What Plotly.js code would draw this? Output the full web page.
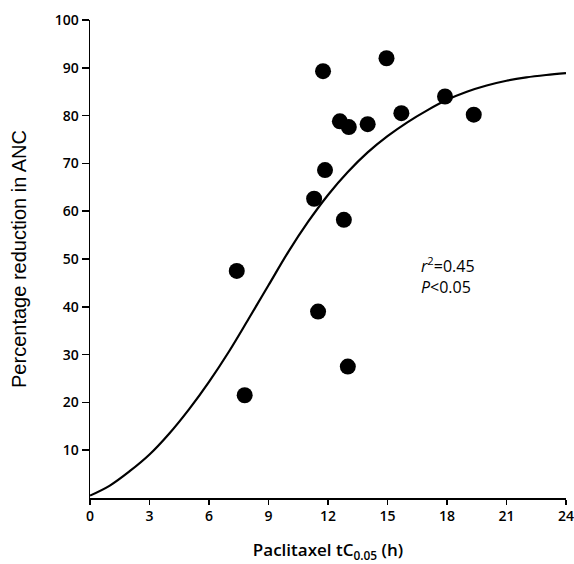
<!DOCTYPE html>
<html>
<head>
<meta charset="utf-8">
<script src="https://cdn.plot.ly/plotly-3.0.1.min.js"></script>
<style>html,body{margin:0;padding:0;background:#fff;}#chart{width:574px;height:564px;}</style>
</head>
<body>
<div id="chart"></div>
<script>
// Observed patients: paclitaxel tC0.05 (h) vs % reduction in ANC
const obsX = [7.4, 7.8, 11.3, 11.5, 11.75, 11.85, 12.6, 13.05, 12.8, 13.0, 14.0, 14.95, 15.7, 17.9, 19.35];
const obsY = [47.5, 21.5, 62.6, 39.0, 89.3, 68.6, 78.8, 77.6, 58.2, 27.5, 78.2, 92.0, 80.5, 84.0, 80.2];

// Fitted curve
const fitX = [0, 1, 2, 3, 4, 5, 6, 7, 8, 9, 10, 11, 12, 13, 14, 15, 16, 17, 18, 19, 20, 21, 22, 23, 24];
const fitY = [0.5, 2.6, 5.6, 9.1, 13.5, 18.6, 24.3, 30.6, 37.5, 44.5, 51.5, 57.8, 63.4, 68.2, 72.3, 75.7, 78.6, 81.1, 83.3, 85.0, 86.3, 87.3, 88.0, 88.5, 88.9];

const xTicks = [0, 3, 6, 9, 12, 15, 18, 21, 24];
const yTicks = [10, 20, 30, 40, 50, 60, 70, 80, 90, 100];

const tickFont = {family: 'Open Sans, sans-serif', size: 14, color: '#000', weight: 600};

const traces = [
  {x: fitX, y: fitY, type: 'scatter', mode: 'lines',
   line: {color: '#000', width: 2.2, shape: 'spline', smoothing: 1}, hoverinfo: 'skip', showlegend: false},
  {x: obsX, y: obsY, type: 'scatter', mode: 'markers',
   marker: {color: '#000', size: 16}, showlegend: false}
];

const layout = {
  width: 574, height: 564,
  margin: {l: 90, r: 8, t: 20, b: 66},
  paper_bgcolor: '#fff', plot_bgcolor: '#fff',
  showlegend: false,
  xaxis: {
    range: [0, 24.001], tickvals: xTicks, ticktext: xTicks.map(String),
    showgrid: false, zeroline: false, showline: true, linecolor: '#000', linewidth: 1.5,
    ticks: 'outside', ticklen: 5, tickwidth: 1.5, tickcolor: '#000',
    tickfont: tickFont, ticklabeloverflow: 'allow',
    title: {text: 'Paclitaxel tC<sub>0.05</sub> (h)', font: {family: 'Open Sans, sans-serif', size: 17, color: '#000', weight: 600}, standoff: 20}
  },
  yaxis: {
    range: [0, 100.001], tickvals: yTicks, ticktext: yTicks.map(String),
    showgrid: false, zeroline: false, showline: true, linecolor: '#000', linewidth: 1.5,
    ticks: 'outside', ticklen: 7, tickwidth: 1.5, tickcolor: '#000',
    tickfont: tickFont, ticklabeloverflow: 'allow',
    title: {text: 'Percentage reduction in ANC', font: {family: 'Liberation Sans, Arial, sans-serif', size: 20, color: '#000'}, standoff: 22}
  },
  annotations: [
    {x: 16.6, y: 46.5, xref: 'x', yref: 'y', xanchor: 'left', yanchor: 'middle', align: 'left', showarrow: false,
     text: '<i>r</i><sup>2</sup>=0.45<br><i>P</i><0.05',
     font: {family: 'Open Sans, sans-serif', size: 16, color: '#000'}}
  ]
};

Plotly.newPlot('chart', traces, layout, {displayModeBar: false, staticPlot: true});
</script>
</body>
</html>
